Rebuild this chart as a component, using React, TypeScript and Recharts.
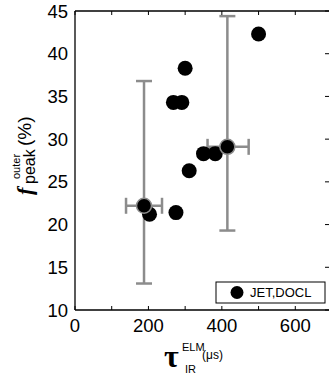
import React from 'react';
import { ScatterChart, Scatter, XAxis, YAxis, ErrorBar, ReferenceLine, Customized } from 'recharts';

// Plain JET,DOCL points
const tauValues = [500, 300, 268, 291, 350, 382, 311, 203, 275];
const fpeakValues = [42.3, 38.3, 34.3, 34.3, 28.3, 28.3, 26.3, 21.2, 21.4];

// Points with error bars
const errTauValues = [188, 415];
const errFpeakValues = [22.2, 29.1];
const tauErrLow = [49, 54];
const tauErrHigh = [49, 58];
const fpeakErrLow = [9.1, 9.8];
const fpeakErrHigh = [14.6, 15.3];

const xTicks = [0, 100, 200, 300, 400, 500, 600, 700];
const yTicks = [10, 15, 20, 25, 30, 35, 40, 45];
const legendLabel = 'JET,DOCL';

const plainData = tauValues.map((x, i) => ({ x, y: fpeakValues[i] }));
const errData = errTauValues.map((x, i) => ({
  x,
  y: errFpeakValues[i],
  ex: [tauErrLow[i], tauErrHigh[i]],
  ey: [fpeakErrLow[i], fpeakErrHigh[i]],
}));

const SANS = '"Liberation Sans", Arial, sans-serif';
const SERIF = '"Liberation Serif", "Times New Roman", serif';
const TOP = 11;
const BOTTOM = 310;
const RIGHT = 329;
const TICK_FONT = 18.5;

const XTick = (props: any) => {
  const { x, payload } = props;
  const v = payload.value;
  return (
    <g>
      <line x1={x} y1={BOTTOM} x2={x} y2={BOTTOM - 4} stroke="#000" strokeWidth={1} />
      <line x1={x} y1={TOP} x2={x} y2={TOP + 4} stroke="#000" strokeWidth={1} />
      {v % 200 === 0 && (
        <text x={x} y={331.5} textAnchor="middle" fontSize={TICK_FONT} fontFamily={SANS} fill="#000">
          {v}
        </text>
      )}
    </g>
  );
};

const YTick = (props: any) => {
  const { y, payload } = props;
  return (
    <g>
      <text x={68} y={y + 6.5} textAnchor="end" fontSize={TICK_FONT} fontFamily={SANS} fill="#000">
        {payload.value}
      </text>
      <line x1={RIGHT - 4} y1={y} x2={RIGHT} y2={y} stroke="#000" strokeWidth={1} />
    </g>
  );
};

const Dot = (props: any) => {
  const { cx, cy } = props;
  return <circle cx={cx} cy={cy} r={7.5} fill="#000" />;
};

const ErrDot = (props: any) => {
  const { cx, cy } = props;
  return <circle cx={cx} cy={cy} r={7.5} fill="#000" stroke="#8c8c8c" strokeWidth={1.5} />;
};

const Labels = () => (
  <g>
    <g transform="rotate(-90)">
      <text x={-195} y={32} fontSize={22} fontFamily={SERIF} fontWeight="bold" fontStyle="italic" fill="#000">f</text>
      <text x={-184} y={35} fontSize={16} fontFamily={SANS} fill="#000">peak</text>
      <text x={-179} y={20} fontSize={11} fontFamily={SANS} fill="#000">outer</text>
      <text x={-146} y={31} fontSize={19} fontFamily={SANS} fill="#000">(%)</text>
    </g>
    <text x={164} y={367} fontSize={32} fontFamily={SERIF} fontWeight="bold" fill="#000">τ</text>
    <text x={182} y={351} fontSize={11} fontFamily={SANS} fill="#000">ELM</text>
    <text x={185} y={373} fontSize={11} fontFamily={SANS} fill="#000">IR</text>
    <text x={202} y={359} fontSize={12} fontFamily={SANS} fill="#000">(μs)</text>
    <rect x={216} y={282} width={109} height={21} fill="#fff" stroke="#000" strokeWidth={1} />
    <circle cx={237} cy={292.5} r={6.5} fill="#000" />
    <text x={250} y={297} fontSize={13} fontFamily={SANS} fill="#000">{legendLabel}</text>
  </g>
);

export default function App() {
  return (
    <div style={{ position: 'absolute', left: 0, top: 0, width: 329, height: 376, overflow: 'hidden', background: '#fff' }}>
      <ScatterChart width={332} height={376} margin={{ top: TOP, right: 0, bottom: 0, left: 0 }}>
        <XAxis
          type="number"
          dataKey="x"
          domain={[0, 700]}
          ticks={xTicks}
          interval={0}
          height={66}
          tickLine={false}
          axisLine={{ stroke: '#000', strokeWidth: 1.3 }}
          tick={<XTick />}
        />
        <YAxis
          type="number"
          dataKey="y"
          domain={[10, 45]}
          ticks={yTicks}
          interval={0}
          width={75}
          tickLine={false}
          axisLine={{ stroke: '#000', strokeWidth: 1.3 }}
          tick={<YTick />}
        />
        <ReferenceLine y={45} stroke="#000" strokeWidth={1.3} />
        <Scatter data={plainData} fill="#000" shape={<Dot />} isAnimationActive={false} />
        <Scatter data={errData} fill="#000" shape={<ErrDot />} isAnimationActive={false}>
          <ErrorBar dataKey="ey" direction="y" width={8} stroke="#8c8c8c" strokeWidth={2.5} />
          <ErrorBar dataKey="ex" direction="x" width={8} stroke="#8c8c8c" strokeWidth={2.5} />
        </Scatter>
        <Customized component={Labels} />
      </ScatterChart>
    </div>
  );
}
